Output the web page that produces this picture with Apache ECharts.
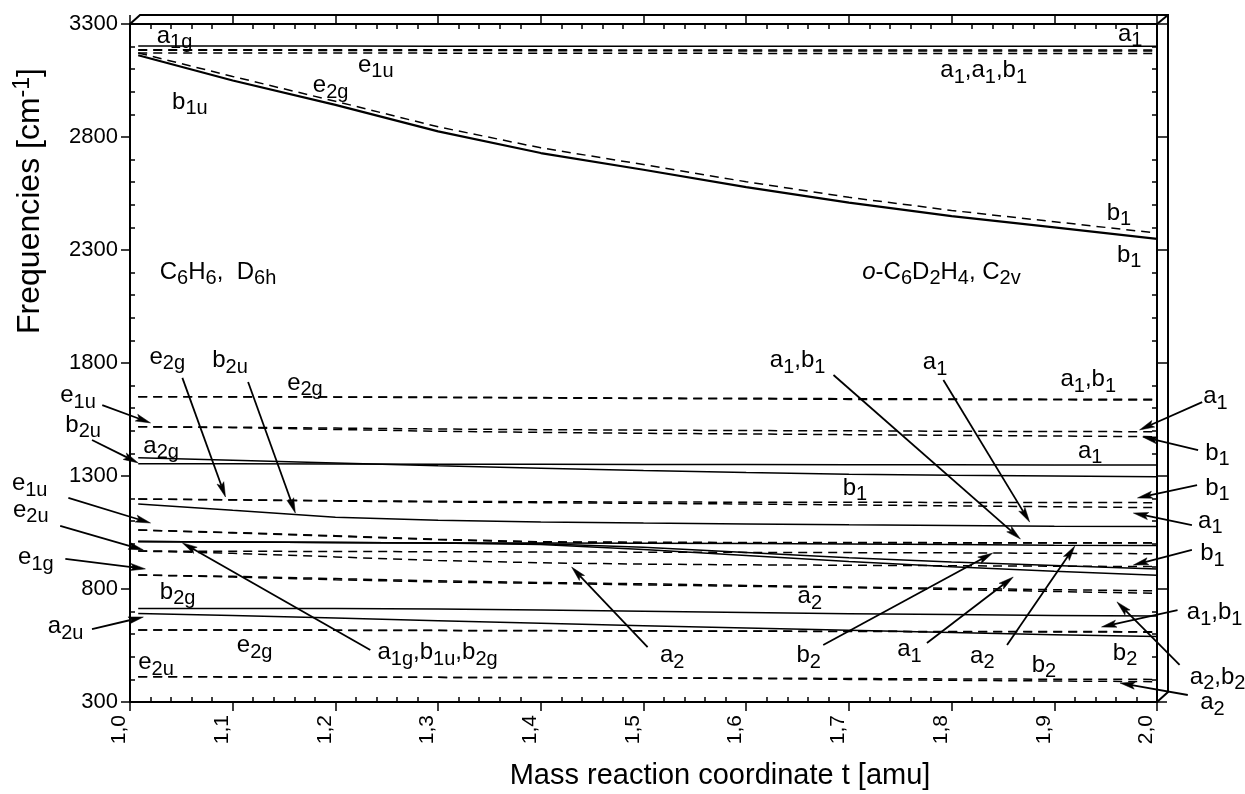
<!DOCTYPE html>
<html><head><meta charset="utf-8">
<script src="https://cdn.jsdelivr.net/npm/echarts@6/dist/echarts.min.js"></script>
<style>html,body{margin:0;padding:0;background:#fff}#c{width:1245px;height:794px}</style>
</head><body><div id="c"></div>
<script>
// ---------- data ----------
const T = [1.008, 1.1, 1.2, 1.3, 1.4, 1.5, 1.6, 1.7, 1.8, 1.9, 2.0];

// solid lines (non-degenerate modes)
const a1g_top = [3203,3203,3203,3202,3202,3202,3202,3202,3201,3201,3201];
const b1u_top = [3162,3050,2942,2825,2729,2655,2578,2510,2450,2400,2349];
const a2g     = [1381,1370,1358,1345,1334,1324,1315,1308,1303,1300,1297];
const b2u_hi  = [1354,1354,1353,1352,1352,1351,1351,1350,1350,1349,1349];
const b2u_lo  = [1176,1148,1118,1104,1097,1092,1088,1084,1081,1078,1076];
const a1g_lo  = [1010,1008,1006,1004,1003,1002,1001,999,997,994,992];
const b1u_lo  = [1010,1008,1006,1004,1000,985,962,938,920,904,889];
const b2g_hi  = [1010,1008,1006,1003,997,975,948,922,898,878,861];
const b2g_lo  = [714,714,714,712,707,702,696,691,687,683,680];
const a2u     = [692,683,672,660,648,637,627,617,607,598,590];

// dashed lines (components of degenerate modes)
const e1u_top1 = [3186,3186,3186,3186,3186,3185,3185,3185,3185,3185,3185];
const e1u_top2 = [3184,3184,3183,3183,3182,3182,3181,3181,3180,3180,3180];
const e2g_top1 = [3172,3172,3172,3171,3171,3171,3170,3170,3170,3170,3170];
const e2g_top2 = [3172,3068,2958,2845,2752,2678,2602,2533,2475,2425,2375];
const e2g_1 = [1651,1651,1650,1649,1647,1645,1644,1642,1641,1640,1640];
const e2g_2 = [1651,1650,1649,1647,1645,1643,1641,1639,1638,1637,1636];
const e1u_1 = [1518,1516,1512,1508,1505,1503,1501,1500,1498,1497,1496];
const e1u_2 = [1518,1514,1506,1498,1493,1489,1486,1483,1480,1477,1474];
const e2g_3 = [1198,1195,1191,1188,1186,1185,1184,1184,1183,1183,1182];
const e2g_4 = [1198,1194,1189,1185,1182,1179,1176,1172,1168,1164,1160];
const e1u_3 = [1061,1050,1036,1020,1009,1007,1006,1006,1005,1005,1005];
const e1u_4 = [1061,1048,1033,1018,1007,1005,1004,1004,1003,1003,1003];
const e2u_1 = [968,967,966,965,964,963,962,961,960,958,956];
const e2u_2 = [968,958,942,926,916,910,907,905,903,901,899];
const e1g_1 = [862,856,846,836,829,823,816,809,803,797,792];
const e1g_2 = [862,853,841,831,825,818,812,806,798,789,781];
const e2g_5 = [619,619,618,617,616,615,614,613,612,612,611];
const e2g_6 = [619,618,617,616,615,614,613,612,611,610,609];
const e2u_3 = [412,411,410,409,408,407,406,404,402,401,400];
const e2u_4 = [412,411,410,409,408,407,404,400,396,393,390];

const solidSeries = [a1g_top, b2u_hi, a2g, b2u_lo, a1g_lo, b1u_lo, b2g_hi, b2g_lo, a2u];
const dashedSeries = [e1u_top1, e1u_top2, e2g_top1, e2g_top2, e2g_1, e2g_2, e1u_1, e1u_2,
  e2g_3, e2g_4, e1u_3, e1u_4, e2u_1, e2u_2, e1g_1, e1g_2, e2g_5, e2g_6, e2u_3, e2u_4];

// tick labels
const xTicks = {min: 1.0, max: 2.0, step: 0.1};
const yTicks = {min: 300, max: 3300, step: 500};

// annotation texts: [text, t, frequency]
const labels = [
  ['a{s|1g}', 1.026, 3247], ['e{s|1u}', 1.222, 3119], ['e{s|2g}', 1.178, 3030], ['b{s|1u}', 1.041, 2955],
  ['a{s|1}', 1.962, 3256], ['a{s|1},a{s|1},b{s|1}', 1.789, 3096], ['b{s|1}', 1.951, 2464], ['b{s|1}', 1.961, 2278],
  ['C{s|6}H{s|6},  D{s|6h}', 1.029, 2203], ['{i|o}-C{s|6}D{s|2}H{s|4}, C{s|2v}', 1.713, 2203],
  ['e{s|2g}', 1.019, 1827], ['b{s|2u}', 1.080, 1813], ['e{s|2g}', 1.153, 1712], ['e{s|1u}', 0.932, 1658],
  ['b{s|2u}', 0.937, 1526], ['a{s|2g}', 1.013, 1433], ['e{s|1u}', 0.885, 1269], ['e{s|2u}', 0.886, 1150],
  ['e{s|1g}', 0.891, 941], ['b{s|2g}', 1.029, 787], ['a{s|2u}', 0.920, 636], ['e{s|2g}', 1.104, 552],
  ['e{s|2u}', 1.008, 477], ['a{s|1g},b{s|1u},b{s|2g}', 1.241, 521], ['a{s|2}', 1.516, 508],
  ['a{s|2}', 1.650, 769], ['b{s|2}', 1.649, 508], ['a{s|1},b{s|1}', 1.623, 1813], ['a{s|1}', 1.772, 1804],
  ['a{s|1},b{s|1}', 1.906, 1729], ['a{s|1}', 2.045, 1654], ['b{s|1}', 2.047, 1402], ['a{s|1}', 1.923, 1411],
  ['b{s|1}', 1.694, 1247], ['b{s|1}', 2.047, 1247], ['a{s|1}', 2.040, 1101], ['b{s|1}', 2.042, 959],
  ['a{s|1},b{s|1}', 2.029, 698], ['b{s|2}', 1.957, 517], ['a{s|2},b{s|2}', 2.032, 411], ['a{s|2}', 2.042, 300],
  ['a{s|1}', 1.747, 534], ['a{s|2}', 1.818, 504], ['b{s|2}', 1.878, 464]
];

// arrows: [t_from, v_from, t_to, v_to]
const arrows = [
  [1.051,1734,1.093,1207], [1.115,1716,1.161,1136], [0.973,1614,1.020,1535], [0.963,1459,1.008,1358],
  [0.940,1203,1.020,1092], [0.932,1079,1.013,973], [0.937,933,1.015,889], [0.963,623,1.013,676],
  [1.234,530,1.051,1004], [1.504,543,1.430,897],
  [1.685,1747,1.867,1021], [1.792,1725,1.876,1096], [2.044,1627,1.983,1504], [2.040,1415,1.986,1473],
  [2.039,1260,1.981,1203], [2.034,1083,1.977,1136], [2.034,973,1.977,906], [2.020,707,1.946,632],
  [2.022,464,1.961,743], [2.030,331,1.964,384], [1.675,552,1.840,959], [1.776,561,1.860,853],
  [1.854,552,1.920,990]
];

// ---------- chart ----------
const FONT = '"Liberation Sans", Arial, Helvetica, sans-serif';
const G = {left: 130, top: 24, width: 1027, height: 678, depth: 10};
const RICH = {
  s: {fontSize: 20, fontFamily: FONT, lineHeight: 20, verticalAlign: 'bottom', fill: '#000'},
  i: {fontSize: 24, fontFamily: FONT, fontStyle: 'italic', lineHeight: 34, fill: '#000'},
  sup: {fontSize: 23, fontFamily: FONT, lineHeight: 22, verticalAlign: 'top', fill: '#000'}
};

const chart = echarts.init(document.getElementById('c'), null, {renderer: 'canvas'});

function lineSeries(vals, dashed, width) {
  return {
    type: 'line', xAxisIndex: 0, yAxisIndex: 0, silent: true, symbol: 'none', showSymbol: false,
    data: T.map((t, i) => [t, vals[i]]),
    lineStyle: {color: '#000', width: width, type: dashed ? [9, 6] : 'solid'},
    z: 3
  };
}

const axisCommon = {
  axisLine: {show: true, onZero: false, lineStyle: {color: '#000', width: 2}},
  axisTick: {show: true, inside: false, length: 9, lineStyle: {color: '#000', width: 1.5}},
  minorTick: {show: true, splitNumber: 5, length: -5, lineStyle: {color: '#000', width: 1.5}},
  splitLine: {show: false}, minorSplitLine: {show: false}
};

const series = [];
solidSeries.forEach(v => series.push(lineSeries(v, false, 1.5)));
series.push(lineSeries(b1u_top, false, 2.2));
dashedSeries.forEach(v => series.push(lineSeries(v, true, 1.5)));

series.push({
  type: 'custom', xAxisIndex: 0, yAxisIndex: 0, clip: false, silent: true, z: 5,
  data: arrows,
  renderItem: function (params, api) {
    const a = api.coord([api.value(0), api.value(1)]);
    const b = api.coord([api.value(2), api.value(3)]);
    const dx = b[0] - a[0], dy = b[1] - a[1];
    const len = Math.hypot(dx, dy), ux = dx / len, uy = dy / len;
    const L = 15, W = 3.6;
    const bx = b[0] - ux * L, by = b[1] - uy * L;
    return {type: 'group', children: [
      {type: 'line', shape: {x1: a[0], y1: a[1], x2: bx + ux * 3, y2: by + uy * 3},
       style: {stroke: '#000', lineWidth: 1.8}},
      {type: 'polygon', shape: {points: [[b[0], b[1]], [bx - uy * W, by + ux * W], [bx + ux * 3, by + uy * 3], [bx + uy * W, by - ux * W]]},
       style: {fill: '#000', stroke: '#000', lineWidth: 0.5}}
    ]};
  }
});

series.push({
  type: 'custom', xAxisIndex: 0, yAxisIndex: 0, clip: false, silent: true, z: 6,
  data: labels.map(l => [l[1], l[2]]),
  renderItem: function (params, api) {
    const p = api.coord([api.value(0), api.value(1)]);
    return {type: 'text', x: p[0], y: p[1], style: {
      text: labels[params.dataIndex][0], fontSize: 24, fontFamily: FONT, fill: '#000',
      lineHeight: 34, align: 'left', verticalAlign: 'middle', rich: RICH
    }};
  }
});

const R = G.left + G.width, B = G.top + G.height, d = G.depth;

chart.setOption({
  animation: false,
  backgroundColor: '#fff',
  grid: {left: G.left, top: G.top, width: G.width, height: G.height, containLabel: false},
  xAxis: [
    Object.assign({}, axisCommon, {type: 'value', position: 'bottom', min: xTicks.min, max: xTicks.max, interval: xTicks.step,
      axisLabel: {show: true, rotate: 90, margin: 13, fontSize: 21, fontFamily: FONT, color: '#000',
        verticalAlign: 'bottom', formatter: v => v.toFixed(1).replace('.', ',')}}),
    Object.assign({}, axisCommon, {type: 'value', position: 'top', min: xTicks.min, max: xTicks.max, interval: xTicks.step,
      axisLabel: {show: false}})
  ],
  yAxis: [
    Object.assign({}, axisCommon, {type: 'value', position: 'left', min: yTicks.min, max: yTicks.max, interval: yTicks.step,
      axisLabel: {show: true, margin: 12, fontSize: 22, fontFamily: FONT, color: '#000', formatter: v => String(v)}}),
    Object.assign({}, axisCommon, {type: 'value', position: 'right', min: yTicks.min, max: yTicks.max, interval: yTicks.step,
      axisTick: {show: true, inside: false, length: 10, lineStyle: {color: '#000', width: 1.5}},
      axisLabel: {show: false}})
  ],
  graphic: [
    {type: 'polyline', silent: true, z: 10,
     shape: {points: [[G.left, G.top], [G.left + d, G.top - 9], [R + d + 1, G.top - 9], [R + d + 1, B - 10], [R, B]]},
     style: {stroke: '#000', lineWidth: 2, fill: null}},
    {type: 'line', silent: true, z: 10, shape: {x1: R, y1: G.top, x2: R + d + 1, y2: G.top - 9},
     style: {stroke: '#000', lineWidth: 2}},
    {type: 'text', silent: true, x: 30, y: 201, rotation: Math.PI / 2,
     style: {text: 'Frequencies [cm{sup|-1}]', fontSize: 32, fontFamily: FONT, fill: '#000',
             lineHeight: 38, align: 'center', verticalAlign: 'middle', rich: RICH}},
    {type: 'text', silent: true, x: 720, y: 776,
     style: {text: 'Mass reaction coordinate t [amu]', fontSize: 29, fontFamily: FONT, fill: '#000',
             align: 'center', verticalAlign: 'middle'}}
  ],
  series: series
});
</script></body></html>
